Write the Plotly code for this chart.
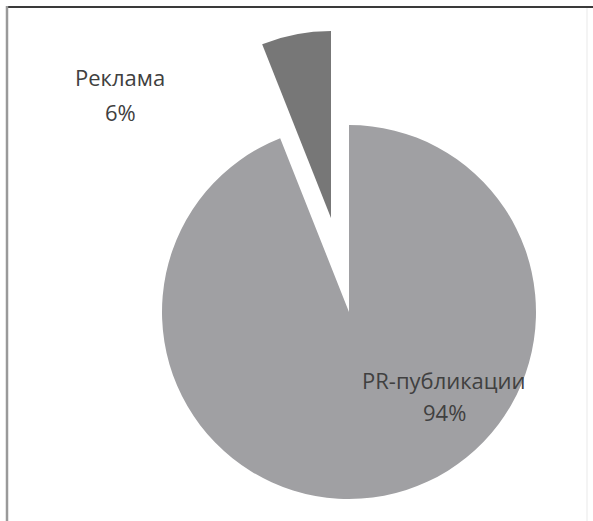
import plotly.graph_objects as go

# Share of coverage by channel
labels = ["PR-публикации", "Реклама"]
values = [94, 6]
colors = ["#a0a0a3", "#777777"]

W, H = 593, 521
R = 187  # pie radius, px
main_center = (349, 312)      # centre of the whole pie
pulled_center = (331, 218)    # centre of the detached slice


def domain(cx, cy, r):
    return dict(
        x=[(cx - r) / W, (cx + r) / W],
        y=[1 - (cy + r) / H, 1 - (cy - r) / H],
    )


clear = "rgba(0,0,0,0)"

fig = go.Figure()
# Main slice drawn in place; the small one is left blank here
fig.add_trace(go.Pie(
    labels=labels, values=values, sort=False, direction="clockwise", rotation=0,
    marker=dict(colors=[colors[0], clear], line=dict(width=0)),
    textinfo="none", hoverinfo="skip", showlegend=False,
    domain=domain(*main_center, R),
))
# Small slice drawn shifted outward
fig.add_trace(go.Pie(
    labels=labels, values=values, sort=False, direction="clockwise", rotation=0,
    marker=dict(colors=[clear, colors[1]], line=dict(width=0)),
    textinfo="none", hoverinfo="skip", showlegend=False,
    domain=domain(*pulled_center, R),
))

label_pos = {"PR-публикации": ((444, 380), (444, 412)),
             "Реклама": ((120, 77), (120, 112))}
font = dict(family="Open Sans", size=22, color="#404040")
annotations = []
for lab, val in zip(labels, values):
    (x1, y1), (x2, y2) = label_pos[lab]
    for txt, (x, y) in ((lab, (x1, y1)), (f"{val}%", (x2, y2))):
        annotations.append(dict(
            text=txt, x=x / W, y=1 - y / H, xref="paper", yref="paper",
            xanchor="center", yanchor="middle", showarrow=False, font=font,
        ))

shapes = [
    dict(type="line", xref="paper", yref="paper", x0=6 / W, x1=1, y0=1 - 7 / H, y1=1 - 7 / H,
         line=dict(color="#3a3a3a", width=2)),
    dict(type="line", xref="paper", yref="paper", x0=7 / W, x1=7 / W, y0=0, y1=1 - 6 / H,
         line=dict(color="#9a9a9a", width=2.5)),
    dict(type="line", xref="paper", yref="paper", x0=587 / W, x1=587 / W, y0=0, y1=1 - 8 / H,
         line=dict(color="#f0f0f0", width=1.5)),
]

fig.update_layout(
    width=W, height=H, margin=dict(l=0, r=0, t=0, b=0),
    paper_bgcolor="white", plot_bgcolor="white",
    annotations=annotations, shapes=shapes,
)

fig.write_html("out.html")
